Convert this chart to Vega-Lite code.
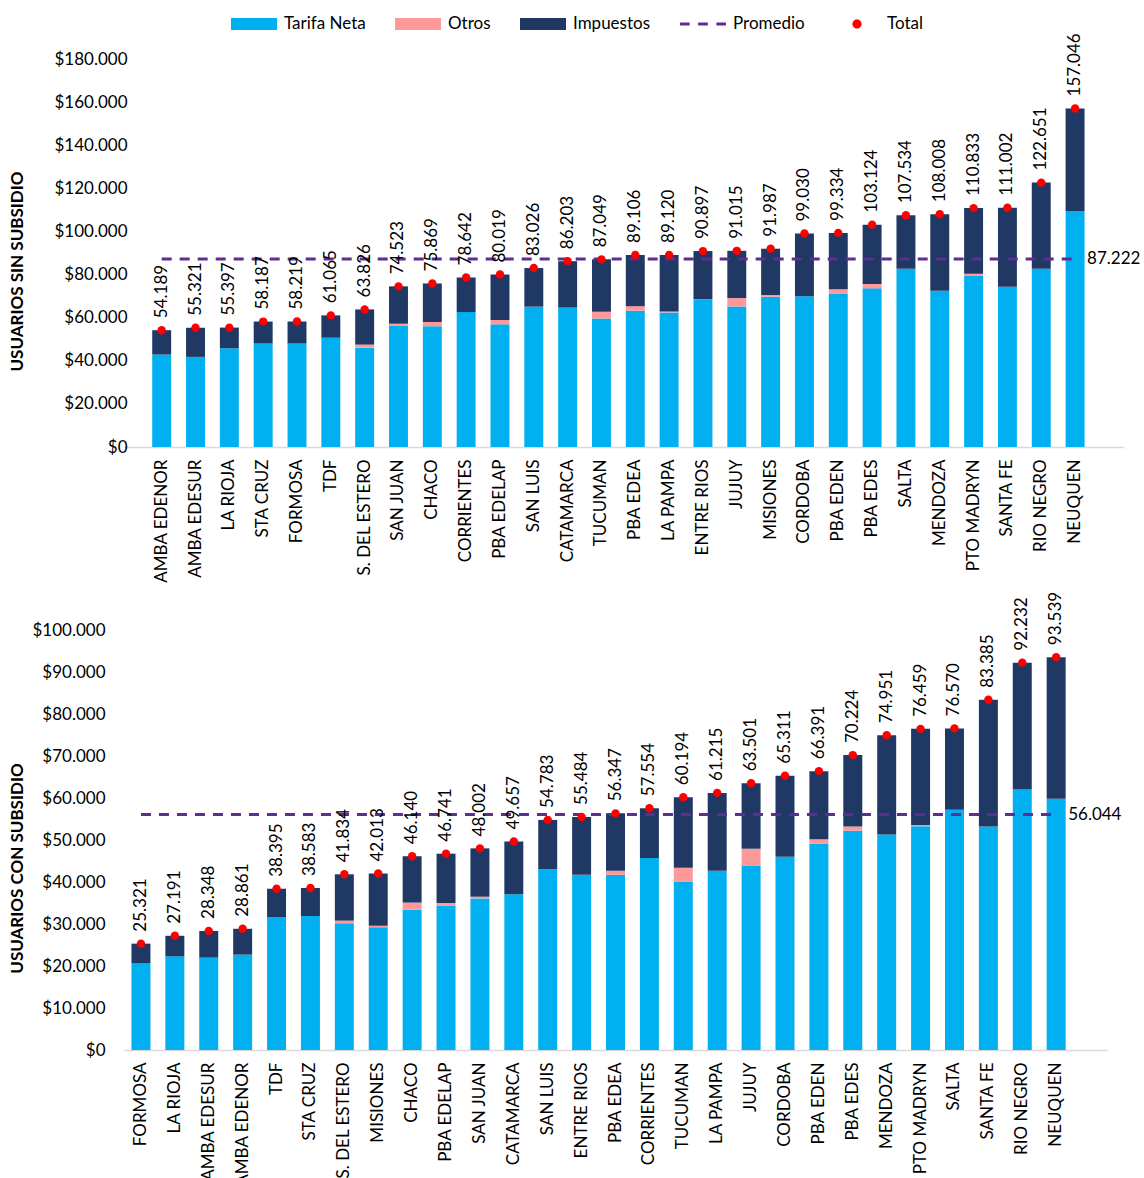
{
  "$schema": "https://vega.github.io/schema/vega-lite/v6.json",
  "padding": {"left": 8, "top": 1, "right": 5, "bottom": 0},
  "spacing": 8,
  "align": "none",
  "config": {
    "font": "Lato",
    "view": {"stroke": null},
    "locale": {"number": {"decimal": ",", "thousands": ".", "grouping": [3], "currency": ["$", ""]}},
    "axisX": {"labelAngle": -90, "labelFontSize": 17, "labelColor": "#000000", "labelPadding": 12, "domainColor": "#D9D9D9", "domainWidth": 1.5, "ticks": false, "title": null, "labelLimit": 300},
    "axisY": {"labelFontSize": 17, "labelColor": "#000000", "labelPadding": 19, "domain": false, "ticks": false, "grid": false, "titleFontSize": 17, "titleFontWeight": "bold", "titleColor": "#000000", "format": "$,.0f"},
    "legend": {"labelFontSize": 17, "labelColor": "#000000", "labelOffset": 7, "columnPadding": 29, "symbolSize": 2116, "symbolStrokeWidth": 0, "symbolOpacity": 1}
  },
  "datasets": {
    "sin": [
      {"prov": "AMBA EDENOR", "Tarifa Neta": 42900, "Otros": 0, "Impuestos": 11289, "Total": 54189},
      {"prov": "AMBA EDESUR", "Tarifa Neta": 41800, "Otros": 0, "Impuestos": 13521, "Total": 55321},
      {"prov": "LA RIOJA", "Tarifa Neta": 45800, "Otros": 0, "Impuestos": 9597, "Total": 55397},
      {"prov": "STA CRUZ", "Tarifa Neta": 48000, "Otros": 0, "Impuestos": 10187, "Total": 58187},
      {"prov": "FORMOSA", "Tarifa Neta": 48000, "Otros": 0, "Impuestos": 10219, "Total": 58219},
      {"prov": "TDF", "Tarifa Neta": 50700, "Otros": 0, "Impuestos": 10365, "Total": 61065},
      {"prov": "S. DEL ESTERO", "Tarifa Neta": 46100, "Otros": 1400, "Impuestos": 16326, "Total": 63826},
      {"prov": "SAN JUAN", "Tarifa Neta": 56400, "Otros": 800, "Impuestos": 17323, "Total": 74523},
      {"prov": "CHACO", "Tarifa Neta": 56000, "Otros": 2000, "Impuestos": 17869, "Total": 75869},
      {"prov": "CORRIENTES", "Tarifa Neta": 62600, "Otros": 0, "Impuestos": 16042, "Total": 78642},
      {"prov": "PBA EDELAP", "Tarifa Neta": 56900, "Otros": 2000, "Impuestos": 21119, "Total": 80019},
      {"prov": "SAN LUIS", "Tarifa Neta": 65100, "Otros": 0, "Impuestos": 17926, "Total": 83026},
      {"prov": "CATAMARCA", "Tarifa Neta": 64700, "Otros": 0, "Impuestos": 21503, "Total": 86203},
      {"prov": "TUCUMAN", "Tarifa Neta": 59600, "Otros": 3100, "Impuestos": 24349, "Total": 87049},
      {"prov": "PBA EDEA", "Tarifa Neta": 63200, "Otros": 2100, "Impuestos": 23806, "Total": 89106},
      {"prov": "LA PAMPA", "Tarifa Neta": 62400, "Otros": 500, "Impuestos": 26220, "Total": 89120},
      {"prov": "ENTRE RIOS", "Tarifa Neta": 68600, "Otros": 0, "Impuestos": 22297, "Total": 90897},
      {"prov": "JUJUY", "Tarifa Neta": 65200, "Otros": 3900, "Impuestos": 21915, "Total": 91015},
      {"prov": "MISIONES", "Tarifa Neta": 69700, "Otros": 800, "Impuestos": 21487, "Total": 91987},
      {"prov": "CORDOBA", "Tarifa Neta": 69900, "Otros": 0, "Impuestos": 29130, "Total": 99030},
      {"prov": "PBA EDEN", "Tarifa Neta": 71000, "Otros": 2200, "Impuestos": 26134, "Total": 99334},
      {"prov": "PBA EDES", "Tarifa Neta": 73600, "Otros": 2000, "Impuestos": 27524, "Total": 103124},
      {"prov": "SALTA", "Tarifa Neta": 82700, "Otros": 0, "Impuestos": 24834, "Total": 107534},
      {"prov": "MENDOZA", "Tarifa Neta": 72500, "Otros": 0, "Impuestos": 35508, "Total": 108008},
      {"prov": "PTO MADRYN", "Tarifa Neta": 79600, "Otros": 800, "Impuestos": 30433, "Total": 110833},
      {"prov": "SANTA FE", "Tarifa Neta": 74300, "Otros": 0, "Impuestos": 36702, "Total": 111002},
      {"prov": "RIO NEGRO", "Tarifa Neta": 82700, "Otros": 0, "Impuestos": 39951, "Total": 122651},
      {"prov": "NEUQUEN", "Tarifa Neta": 109500, "Otros": 0, "Impuestos": 47546, "Total": 157046}
    ],
    "con": [
      {"prov": "FORMOSA", "Tarifa Neta": 20700, "Otros": 0, "Impuestos": 4621, "Total": 25321},
      {"prov": "LA RIOJA", "Tarifa Neta": 22300, "Otros": 0, "Impuestos": 4891, "Total": 27191},
      {"prov": "AMBA EDESUR", "Tarifa Neta": 22000, "Otros": 0, "Impuestos": 6348, "Total": 28348},
      {"prov": "AMBA EDENOR", "Tarifa Neta": 22700, "Otros": 0, "Impuestos": 6161, "Total": 28861},
      {"prov": "TDF", "Tarifa Neta": 31600, "Otros": 0, "Impuestos": 6795, "Total": 38395},
      {"prov": "STA CRUZ", "Tarifa Neta": 31900, "Otros": 0, "Impuestos": 6683, "Total": 38583},
      {"prov": "S. DEL ESTERO", "Tarifa Neta": 30200, "Otros": 600, "Impuestos": 11034, "Total": 41834},
      {"prov": "MISIONES", "Tarifa Neta": 29200, "Otros": 400, "Impuestos": 12413, "Total": 42013},
      {"prov": "CHACO", "Tarifa Neta": 33400, "Otros": 1700, "Impuestos": 11040, "Total": 46140},
      {"prov": "PBA EDELAP", "Tarifa Neta": 34400, "Otros": 600, "Impuestos": 11741, "Total": 46741},
      {"prov": "SAN JUAN", "Tarifa Neta": 36100, "Otros": 400, "Impuestos": 11502, "Total": 48002},
      {"prov": "CATAMARCA", "Tarifa Neta": 37100, "Otros": 0, "Impuestos": 12557, "Total": 49657},
      {"prov": "SAN LUIS", "Tarifa Neta": 43000, "Otros": 0, "Impuestos": 11783, "Total": 54783},
      {"prov": "ENTRE RIOS", "Tarifa Neta": 41700, "Otros": 0, "Impuestos": 13784, "Total": 55484},
      {"prov": "PBA EDEA", "Tarifa Neta": 41700, "Otros": 1000, "Impuestos": 13647, "Total": 56347},
      {"prov": "CORRIENTES", "Tarifa Neta": 45700, "Otros": 0, "Impuestos": 11854, "Total": 57554},
      {"prov": "TUCUMAN", "Tarifa Neta": 40100, "Otros": 3300, "Impuestos": 16794, "Total": 60194},
      {"prov": "LA PAMPA", "Tarifa Neta": 42700, "Otros": 0, "Impuestos": 18515, "Total": 61215},
      {"prov": "JUJUY", "Tarifa Neta": 43900, "Otros": 4000, "Impuestos": 15601, "Total": 63501},
      {"prov": "CORDOBA", "Tarifa Neta": 46000, "Otros": 0, "Impuestos": 19311, "Total": 65311},
      {"prov": "PBA EDEN", "Tarifa Neta": 49100, "Otros": 1100, "Impuestos": 16191, "Total": 66391},
      {"prov": "PBA EDES", "Tarifa Neta": 52200, "Otros": 1000, "Impuestos": 17024, "Total": 70224},
      {"prov": "MENDOZA", "Tarifa Neta": 51300, "Otros": 0, "Impuestos": 23651, "Total": 74951},
      {"prov": "PTO MADRYN", "Tarifa Neta": 53300, "Otros": 300, "Impuestos": 22859, "Total": 76459},
      {"prov": "SALTA", "Tarifa Neta": 57200, "Otros": 0, "Impuestos": 19370, "Total": 76570},
      {"prov": "SANTA FE", "Tarifa Neta": 53200, "Otros": 0, "Impuestos": 30185, "Total": 83385},
      {"prov": "RIO NEGRO", "Tarifa Neta": 62000, "Otros": 0, "Impuestos": 30232, "Total": 92232},
      {"prov": "NEUQUEN", "Tarifa Neta": 59800, "Otros": 0, "Impuestos": 33739, "Total": 93539}
    ],
    "prom_sin": [
      {"prov": "AMBA EDENOR", "Promedio": 87222},
      {"prov": "NEUQUEN", "Promedio": 87222}
    ],
    "prom_con": [
      {"prov": "FORMOSA", "Promedio": 56044},
      {"prov": "NEUQUEN", "Promedio": 56044}
    ]
  },
  "vconcat": [
    {
      "width": 1000,
      "height": 388,
      "layer": [
        {
          "data": {"name": "sin"},
          "transform": [{"fold": ["Tarifa Neta", "Otros", "Impuestos"], "as": ["serie", "valor"]}],
          "mark": {"type": "bar"},
          "encoding": {
            "x": {"field": "prov", "type": "nominal", "title": null, "scale": {"domain": ["AMBA EDENOR","AMBA EDESUR","LA RIOJA","STA CRUZ","FORMOSA","TDF","S. DEL ESTERO","SAN JUAN","CHACO","CORRIENTES","PBA EDELAP","SAN LUIS","CATAMARCA","TUCUMAN","PBA EDEA","LA PAMPA","ENTRE RIOS","JUJUY","MISIONES","CORDOBA","PBA EDEN","PBA EDES","SALTA","MENDOZA","PTO MADRYN","SANTA FE","RIO NEGRO","NEUQUEN"], "paddingInner": 0.44, "paddingOuter": 1.046, "align": 0.417}},
            "y": {"field": "valor", "type": "quantitative", "stack": "zero", "title": "USUARIOS SIN SUBSIDIO", "scale": {"domain": [0, 180000], "nice": false}, "axis": {"values": [0,20000,40000,60000,80000,100000,120000,140000,160000,180000], "titlePadding": 27, "titleY": 212, "offset": -22}},
            "color": {"field": "serie", "type": "nominal", "scale": {"domain": ["Tarifa Neta", "Otros", "Impuestos", "Promedio", "Total"], "range": ["#00B0F0", "#FF9999", "#203864", "#5E2D91", "#FF0000"]},
              "legend": {"title": null, "orient": "none", "direction": "horizontal", "legendX": 107, "legendY": -58,
                "encode": {"symbols": {"update": {"shape": {"signal": "datum.value === 'Promedio' ? 'M-1,-0.07h0.42v0.14h-0.42Z M-0.21,-0.07h0.42v0.14h-0.42Z M0.58,-0.07h0.42v0.14h-0.42Z' : (datum.value === 'Total' ? 'M-0.2,0A0.2,0.2,0,1,0,0.2,0A0.2,0.2,0,1,0,-0.2,0Z' : 'M-1,-0.26H1V0.26H-1Z')"}}}}}},
            "order": {"field": "serie", "sort": "descending"}
          }
        },
        {
          "data": {"name": "prom_sin"},
          "mark": {"type": "line", "color": "#5E2D91", "strokeWidth": 3, "strokeDash": [10, 8]},
          "encoding": {
            "x": {"field": "prov", "type": "nominal", "title": null},
            "y": {"field": "Promedio", "type": "quantitative", "title": "USUARIOS SIN SUBSIDIO"}
          }
        },
        {
          "data": {"name": "prom_sin"},
          "transform": [{"filter": "datum.prov === 'NEUQUEN'"}],
          "mark": {"type": "text", "align": "left", "baseline": "middle", "dx": 12, "fontSize": 17, "color": "#000000"},
          "encoding": {
            "x": {"field": "prov", "type": "nominal", "title": null},
            "y": {"field": "Promedio", "type": "quantitative", "title": "USUARIOS SIN SUBSIDIO"},
            "text": {"field": "Promedio", "type": "quantitative", "format": ",.0f"}
          }
        },
        {
          "data": {"name": "sin"},
          "mark": {"type": "circle", "size": 70, "color": "#FF0000", "opacity": 1},
          "encoding": {
            "x": {"field": "prov", "type": "nominal", "title": null},
            "y": {"field": "Total", "type": "quantitative", "title": "USUARIOS SIN SUBSIDIO"}
          }
        },
        {
          "data": {"name": "sin"},
          "mark": {"type": "text", "angle": 270, "align": "left", "baseline": "middle", "dx": 12, "fontSize": 17, "color": "#000000"},
          "encoding": {
            "x": {"field": "prov", "type": "nominal", "title": null},
            "y": {"field": "Total", "type": "quantitative", "title": "USUARIOS SIN SUBSIDIO"},
            "text": {"field": "Total", "type": "quantitative", "format": ",.0f"}
          }
        }
      ]
    },
    {
      "width": 983,
      "height": 420,
      "layer": [
        {
          "data": {"name": "con"},
          "transform": [{"fold": ["Tarifa Neta", "Otros", "Impuestos"], "as": ["serie", "valor"]}],
          "mark": {"type": "bar"},
          "encoding": {
            "x": {"field": "prov", "type": "nominal", "title": null, "scale": {"domain": ["FORMOSA","LA RIOJA","AMBA EDESUR","AMBA EDENOR","TDF","STA CRUZ","S. DEL ESTERO","MISIONES","CHACO","PBA EDELAP","SAN JUAN","CATAMARCA","SAN LUIS","ENTRE RIOS","PBA EDEA","CORRIENTES","TUCUMAN","LA PAMPA","JUJUY","CORDOBA","PBA EDEN","PBA EDES","MENDOZA","PTO MADRYN","SALTA","SANTA FE","RIO NEGRO","NEUQUEN"], "paddingInner": 0.44, "paddingOuter": 0.72, "align": 0.153}},
            "y": {"field": "valor", "type": "quantitative", "stack": "zero", "title": "USUARIOS CON SUBSIDIO", "scale": {"domain": [0, 100000], "nice": false}, "axis": {"values": [0,10000,20000,30000,40000,50000,60000,70000,80000,90000,100000], "titlePadding": 5, "titleY": 238}},
            "color": {"field": "serie", "type": "nominal", "scale": {"domain": ["Tarifa Neta", "Otros", "Impuestos", "Promedio", "Total"], "range": ["#00B0F0", "#FF9999", "#203864", "#5E2D91", "#FF0000"]},
              "legend": {"title": null, "orient": "none", "direction": "horizontal", "legendX": 107, "legendY": -58,
                "encode": {"symbols": {"update": {"shape": {"signal": "datum.value === 'Promedio' ? 'M-1,-0.07h0.42v0.14h-0.42Z M-0.21,-0.07h0.42v0.14h-0.42Z M0.58,-0.07h0.42v0.14h-0.42Z' : (datum.value === 'Total' ? 'M-0.2,0A0.2,0.2,0,1,0,0.2,0A0.2,0.2,0,1,0,-0.2,0Z' : 'M-1,-0.26H1V0.26H-1Z')"}}}}}},
            "order": {"field": "serie", "sort": "descending"}
          }
        },
        {
          "data": {"name": "prom_con"},
          "mark": {"type": "line", "color": "#5E2D91", "strokeWidth": 3, "strokeDash": [10, 8]},
          "encoding": {
            "x": {"field": "prov", "type": "nominal", "title": null},
            "y": {"field": "Promedio", "type": "quantitative", "title": "USUARIOS CON SUBSIDIO"}
          }
        },
        {
          "data": {"name": "prom_con"},
          "transform": [{"filter": "datum.prov === 'NEUQUEN'"}],
          "mark": {"type": "text", "align": "left", "baseline": "middle", "dx": 12, "fontSize": 17, "color": "#000000"},
          "encoding": {
            "x": {"field": "prov", "type": "nominal", "title": null},
            "y": {"field": "Promedio", "type": "quantitative", "title": "USUARIOS CON SUBSIDIO"},
            "text": {"field": "Promedio", "type": "quantitative", "format": ",.0f"}
          }
        },
        {
          "data": {"name": "con"},
          "mark": {"type": "circle", "size": 70, "color": "#FF0000", "opacity": 1},
          "encoding": {
            "x": {"field": "prov", "type": "nominal", "title": null},
            "y": {"field": "Total", "type": "quantitative", "title": "USUARIOS CON SUBSIDIO"}
          }
        },
        {
          "data": {"name": "con"},
          "mark": {"type": "text", "angle": 270, "align": "left", "baseline": "middle", "dx": 12, "fontSize": 17, "color": "#000000"},
          "encoding": {
            "x": {"field": "prov", "type": "nominal", "title": null},
            "y": {"field": "Total", "type": "quantitative", "title": "USUARIOS CON SUBSIDIO"},
            "text": {"field": "Total", "type": "quantitative", "format": ",.0f"}
          }
        }
      ]
    }
  ]
}
